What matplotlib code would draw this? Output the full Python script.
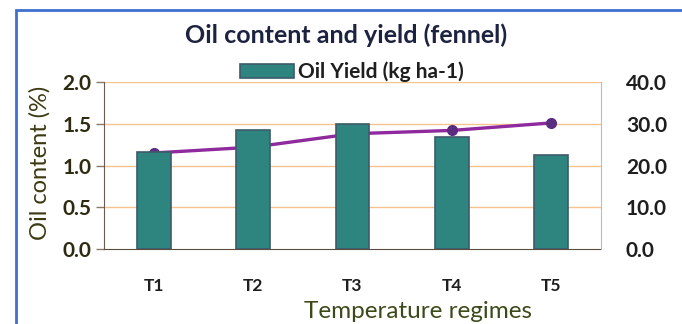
import numpy as np
import matplotlib.pyplot as plt
from matplotlib.patches import Rectangle

plt.rcParams['font.family'] = ['Lato', 'DejaVu Sans']

# temperature regimes and measured values
regimes = ["T1", "T2", "T3", "T4", "T5"]
oil_yield = [23.2, 28.4, 30.0, 26.8, 22.6]      # kg ha-1, right axis
oil_content = [1.15, 1.22, 1.38, 1.42, 1.51]    # %, left axis

fig = plt.figure(figsize=(6.82, 3.24), dpi=100)
fig.patch.set_facecolor("white")

# blue chart frame
fig.add_artist(Rectangle((16 / 682, -0.1), 1.2, (324 - 10) / 324 + 0.1,
                         transform=fig.transFigure, fill=False,
                         edgecolor="#3f6fd0", lw=2.0))

ax = fig.add_axes([104 / 682, 75 / 324, 497 / 682, 167 / 324])
ax2 = ax.twinx()

x = np.arange(len(regimes))

# oil content line (primary axis, drawn underneath the bars)
ax.plot(x, oil_content, color="#8e2a9e", lw=2.4, marker="o", ms=7,
        mfc="#5b2d80", mec="#5b2d80", zorder=3)
ax.set_ylim(0, 2.0)
ax.set_xlim(-0.5, len(regimes) - 0.5)
ax.set_yticks(np.arange(0, 2.01, 0.5))
ax.set_yticklabels([f"{v:.1f}" for v in np.arange(0, 2.01, 0.5)],
                   fontsize=15, fontweight="bold", color="#2e2a10")
for v in np.arange(0.5, 2.01, 0.5):
    ax.axhline(v, color="#f5c38e", lw=1.0, zorder=0)
ax.set_xticks(x)
ax.set_xticklabels(regimes, fontsize=12.5, fontweight="bold", color="#1e1e1e")
ax.tick_params(axis="x", length=0, pad=21)
ax.tick_params(axis="y", length=6, width=1, color="#8a7a6a", pad=3)

# oil yield bars (secondary axis)
bars = ax2.bar(x, oil_yield, width=0.34, color="#2e8580", edgecolor="#3e5a6c",
               lw=1.2, label="Oil Yield (kg ha-1)", zorder=2)
ax2.set_ylim(0, 40)
ax2.set_yticks(np.arange(0, 40.1, 10))
ax2.set_yticklabels([f"{v:.1f}" for v in np.arange(0, 40.1, 10)],
                    fontsize=15, fontweight="bold", color="#1e1e1e")
ax2.tick_params(axis="y", length=0, pad=18)

for a in (ax, ax2):
    a.spines["top"].set_visible(False)
ax.spines["left"].set_color("#6b5b52")
ax.spines["bottom"].set_color("#5b4c42")
ax.spines["right"].set_visible(False)
ax2.spines["left"].set_visible(False)
ax2.spines["bottom"].set_visible(False)
ax2.spines["right"].set_color("#c4bf9a")

fig.text(40 / 682, 1 - 163 / 324, "Oil content (%)", rotation=90,
         ha="center", va="center", fontsize=17, color="#3c3a12")
fig.text(346 / 682, 1 - 35 / 324, "Oil content and yield (fennel)",
         ha="center", va="center", fontsize=18, fontweight="bold",
         color="#1c2240")
fig.text(418 / 682, 1 - 311 / 324, "Temperature regimes", ha="center",
         va="center", fontsize=17.5, color="#3c4a1a")

leg = fig.legend(handles=[bars], loc="center", bbox_to_anchor=(352 / 682, 1 - 72 / 324),
                 frameon=False, fontsize=15, handlelength=2.6, handleheight=0.7,
                 handletextpad=0.2, borderpad=0)
for t in leg.get_texts():
    t.set_fontweight("bold")
    t.set_color("#1e1e1e")

fig.savefig("out.png", dpi=100)
